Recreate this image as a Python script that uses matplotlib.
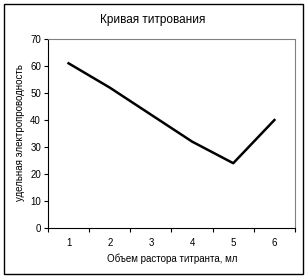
import matplotlib
matplotlib.use("Agg")
import matplotlib.pyplot as plt
from matplotlib.patches import Rectangle
import numpy as np

plt.rcParams['font.family'] = ['Liberation Sans', 'DejaVu Sans']

categories = [1, 2, 3, 4, 5, 6]
values = [61, 52, 42, 32, 24, 40]
y_ticks = [0, 10, 20, 30, 40, 50, 60, 70]

W, H = 308, 279
fig = plt.figure(figsize=(W/100, H/100), dpi=100)
fig.patch.set_facecolor('white')

# outer frame
fig.patches.append(Rectangle((4/W, 1-274/H), 299/W, 270/H, transform=fig.transFigure,
                             fill=False, edgecolor='black', linewidth=1.0))

ax = fig.add_axes([48/W, 1-228/H, 247/W, 189/H])
x = np.arange(1, len(categories)+1)
ax.plot(x, values, color='black', linewidth=1.8)

ax.set_xlim(0.5, len(categories)+0.5)
ax.set_ylim(0, 70)
ax.set_yticks(y_ticks)
ax.set_yticklabels([str(t) for t in y_ticks], fontsize=7)
ax.set_xticks(np.arange(0.5, len(categories)+1, 1))
ax.set_xticklabels([])
ax.set_xticks(x, minor=True)
ax.set_xticklabels([str(c) for c in categories], minor=True, fontsize=7)
ax.tick_params(axis='x', which='major', length=3, direction='out', width=0.8)
ax.tick_params(axis='x', which='minor', length=0, pad=7)
ax.tick_params(axis='y', length=3, direction='out', width=0.8, pad=2)

for s in ['top', 'right']:
    ax.spines[s].set_color('#808080')
    ax.spines[s].set_linewidth(0.8)
for s in ['left', 'bottom']:
    ax.spines[s].set_color('black')
    ax.spines[s].set_linewidth(0.8)

fig.text(153/W, 1-20/H, 'Кривая титрования', ha='center', va='center', fontsize=8.5)
fig.text(172/W, 1-259/H, 'Объем растора титранта, мл', ha='center', va='center', fontsize=7)
fig.text(20/W, 1-133/H, 'удельная электропроводность', ha='center', va='center',
         rotation=90, fontsize=7)

fig.savefig('out.png', dpi=100)
